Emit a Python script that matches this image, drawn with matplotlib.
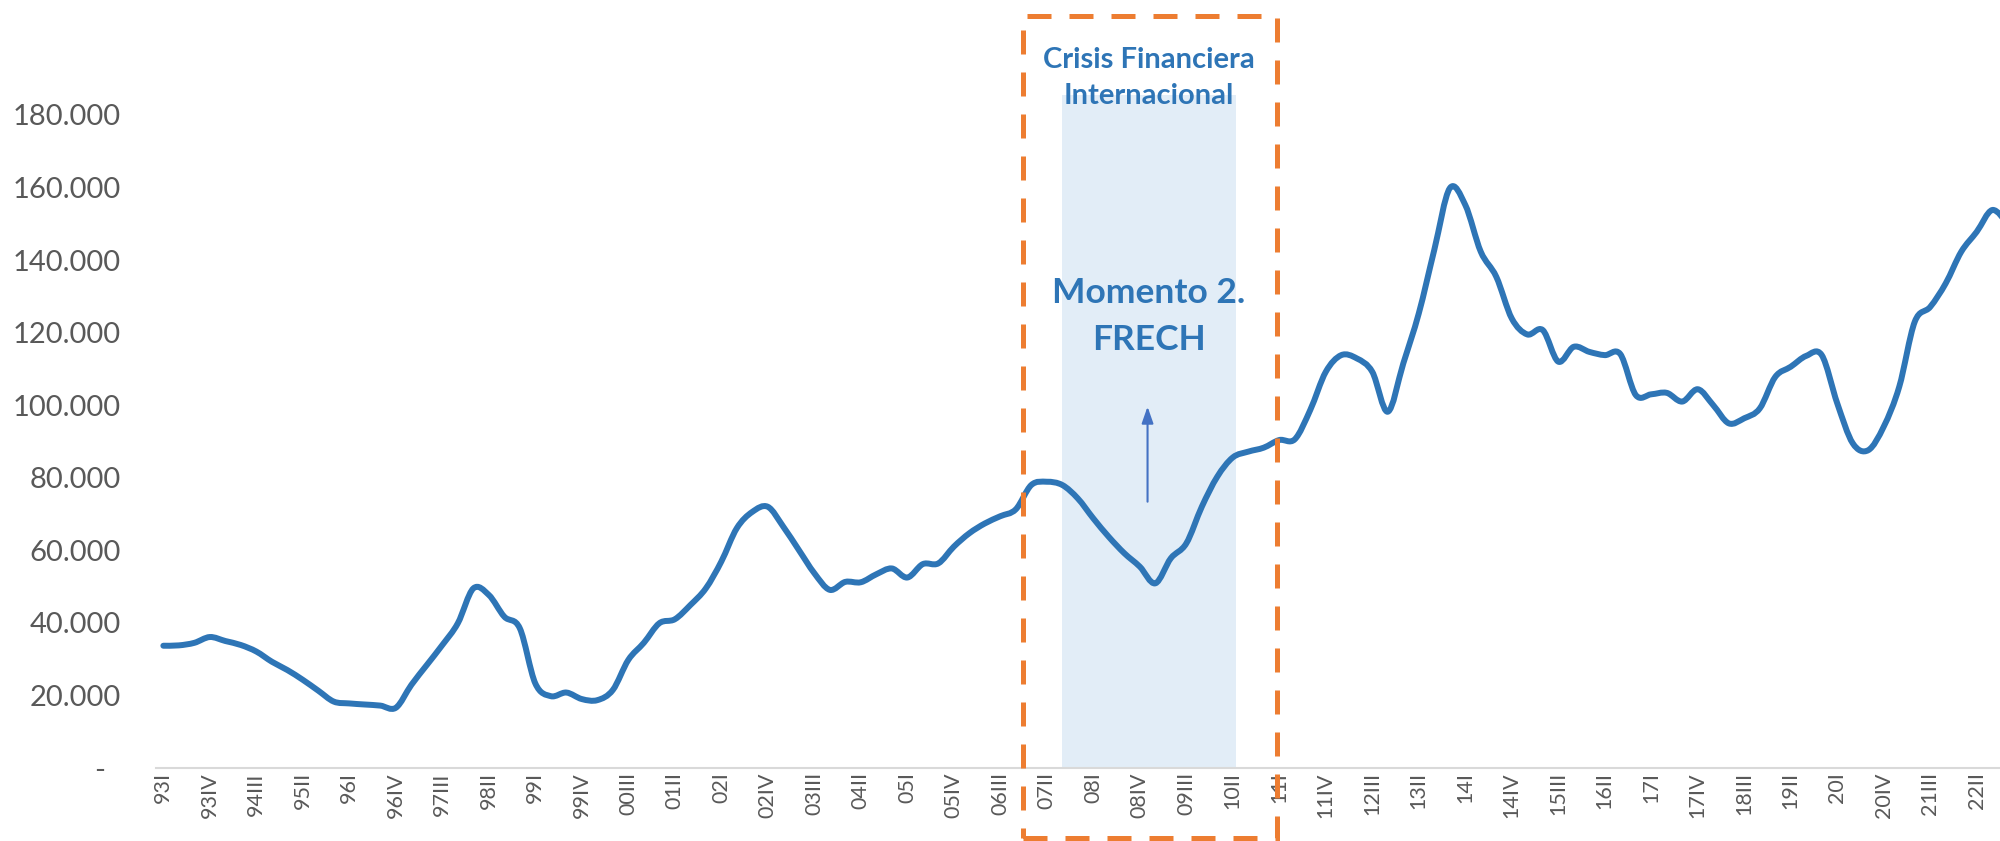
import numpy as np
import matplotlib
matplotlib.use("Agg")
import matplotlib.pyplot as plt
from matplotlib.path import Path
from matplotlib.patches import PathPatch, Rectangle
from matplotlib.ticker import FuncFormatter

plt.rcParams['font.family'] = ['Lato', 'DejaVu Sans']

# serie trimestral 93I .. 22IV (miles)
valores = [
    33.7, 33.8, 34.5, 36.1, 35.0, 33.9, 32.1, 29.3, 27.0, 24.3,
    21.3, 18.3, 17.8, 17.5, 17.2, 16.6, 22.9, 28.4, 33.9, 39.9,
    49.5, 47.7, 41.7, 38.5, 23.3, 19.8, 20.8, 19.0, 18.7, 21.5,
    29.8, 34.5, 39.9, 41.0, 44.9, 49.5, 56.9, 66.1, 70.6, 72.0,
    66.5, 60.1, 53.7, 49.1, 51.3, 51.2, 53.4, 55.0, 52.5, 56.2,
    56.4, 61.0, 64.7, 67.4, 69.4, 71.3, 78.0, 78.9, 78.0, 74.3,
    68.8, 63.7, 59.2, 55.5, 50.9, 57.8, 61.9, 72.0, 80.3, 85.6,
    87.2, 88.3, 90.4, 90.6, 98.7, 109.2, 113.8, 112.9, 109.2, 98.2,
    111.5, 125.3, 142.8, 159.8, 155.2, 142.3, 135.4, 123.9, 119.5, 120.7,
    112.0, 116.1, 114.7, 113.8, 114.1, 102.8, 103.0, 103.4, 101.0, 104.4,
    100.0, 95.0, 96.4, 99.1, 107.8, 110.6, 113.6, 113.8, 100.5, 89.5,
    87.6, 94.1, 105.1, 123.0, 127.1, 133.6, 142.3, 147.8, 153.8, 150.0,
]
valores = np.array(valores) * 1000

etiquetas_x = [
    "93I", "93IV", "94III", "95II", "96I", "96IV", "97III", "98II", "99I", "99IV",
    "00III", "01II", "02I", "02IV", "03III", "04II", "05I", "05IV", "06III", "07II",
    "08I", "08IV", "09III", "10II", "11I", "11IV", "12III", "13II", "14I", "14IV",
    "15III", "16II", "17I", "17IV", "18III", "19II", "20I", "20IV", "21III", "22II",
]
ticks_y = [0, 20000, 40000, 60000, 80000, 100000, 120000, 140000, 160000, 180000]

azul = "#2E75B6"
naranja = "#ED7D31"
gris = "#595959"

fig = plt.figure(figsize=(20, 8.41), dpi=100)
ax = fig.add_axes([0.0778, 0.0868, 0.9222, 0.8628])

x = np.arange(len(valores))

# linea suavizada tipo Excel (bezier catmull-rom)
pts = np.column_stack([x, valores])
verts = [pts[0]]
codes = [Path.MOVETO]
for i in range(len(pts) - 1):
    p0 = pts[max(i - 1, 0)]
    p1 = pts[i]
    p2 = pts[i + 1]
    p3 = pts[min(i + 2, len(pts) - 1)]
    verts += [p1 + (p2 - p0) / 6, p2 - (p3 - p1) / 6, p2]
    codes += [Path.CURVE4] * 3
ax.add_patch(PathPatch(Path(verts, codes), fill=False, edgecolor=azul, lw=4.3,
                       capstyle='round', joinstyle='round', zorder=3))

# zona sombreada crisis
ax.fill_between([57.95, 69.2], 0, 185500, color="#E2EDF7", lw=0, zorder=1)

ax.set_xlim(-0.5, 118.5)
ax.set_ylim(0, 200000)

ax.set_xticks(x[:len(etiquetas_x) * 3:3])
ax.set_xticklabels(etiquetas_x, rotation=90, fontsize=15.5, color=gris)
ax.set_yticks(ticks_y)
ax.yaxis.set_major_formatter(FuncFormatter(
    lambda v, p: "-  " if v == 0 else f"{v:,.0f}".replace(",", ".")))
ax.tick_params(axis='y', length=0, pad=25, labelsize=21, labelcolor=gris)
ax.tick_params(axis='x', length=0, pad=3)

for s in ["left", "right", "top"]:
    ax.spines[s].set_visible(False)
ax.spines["bottom"].set_color("#D9D9D9")
ax.spines["bottom"].set_linewidth(1.5)

# textos
ax.text(63.6, 190200, "Crisis Financiera\nInternacional", ha="center", va="center",
        color=azul, fontsize=21, fontweight="bold", linespacing=1.45, zorder=4)
ax.text(63.6, 124500, "Momento 2.\nFRECH", ha="center", va="center",
        color=azul, fontsize=25.5, fontweight="bold", linespacing=1.6, zorder=4)
ax.annotate("", xy=(63.5, 99600), xytext=(63.5, 73400),
            arrowprops=dict(arrowstyle="-|>,head_width=0.35,head_length=1.0",
                            color="#4472C4", lw=1.5, shrinkA=0, shrinkB=0), zorder=4)

# recuadro naranja punteado
fig.add_artist(Rectangle((0.5114, 0.0036), 0.1271, 0.9777, transform=fig.transFigure,
                         fill=False, edgecolor=naranja, lw=3.6,
                         linestyle=(0, (4.8, 3.6)), capstyle='butt', zorder=5))

fig.savefig("out.png", dpi=100, facecolor="white")
